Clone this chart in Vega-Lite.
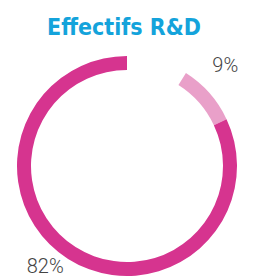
{
  "$schema": "https://vega.github.io/schema/vega-lite/v6.json",
  "width": 254,
  "height": 222,
  "autosize": "none",
  "padding": {"top": 55, "left": 0, "right": 0, "bottom": 0},
  "background": "#ffffff",
  "title": {
    "text": "Effectifs R&D",
    "font": "DejaVu Sans Condensed",
    "fontWeight": "bold",
    "fontSize": 23,
    "color": "#14a3db",
    "anchor": "middle",
    "offset": -21,
    "dx": -3
  },
  "data": {
    "values": [
      {"segment": "vide", "part": 9, "ordre": 1, "label": ""},
      {"segment": "B", "part": 9, "ordre": 2, "label": "9%"},
      {"segment": "A", "part": 82, "ordre": 3, "label": "82%"}
    ]
  },
  "layer": [
    {
      "mark": {"type": "arc", "radius": 110, "radius2": 96, "stroke": null},
      "encoding": {
        "theta": {"field": "part", "type": "quantitative", "stack": true},
        "order": {"field": "ordre", "type": "quantitative"},
        "color": {
          "field": "segment",
          "type": "nominal",
          "scale": {"domain": ["vide", "B", "A"], "range": ["#ffffff", "#e9a0c9", "#d6348f"]},
          "legend": null
        }
      }
    },
    {
      "mark": {"type": "text", "radius": 140, "thetaOffset": -0.07, "font": "Roboto", "fontWeight": 300, "fontSize": 20, "color": "#444444"},
      "encoding": {
        "theta": {"field": "part", "type": "quantitative", "stack": true},
        "order": {"field": "ordre", "type": "quantitative"},
        "text": {"condition": {"test": "datum.segment === 'B'", "field": "label"}, "value": ""}
      }
    },
    {
      "mark": {"type": "text", "radius": 130, "thetaOffset": 0.115, "font": "Roboto", "fontWeight": 300, "fontSize": 20, "color": "#444444"},
      "encoding": {
        "theta": {"field": "part", "type": "quantitative", "stack": true},
        "order": {"field": "ordre", "type": "quantitative"},
        "text": {"condition": {"test": "datum.segment === 'A'", "field": "label"}, "value": ""}
      }
    }
  ]
}
